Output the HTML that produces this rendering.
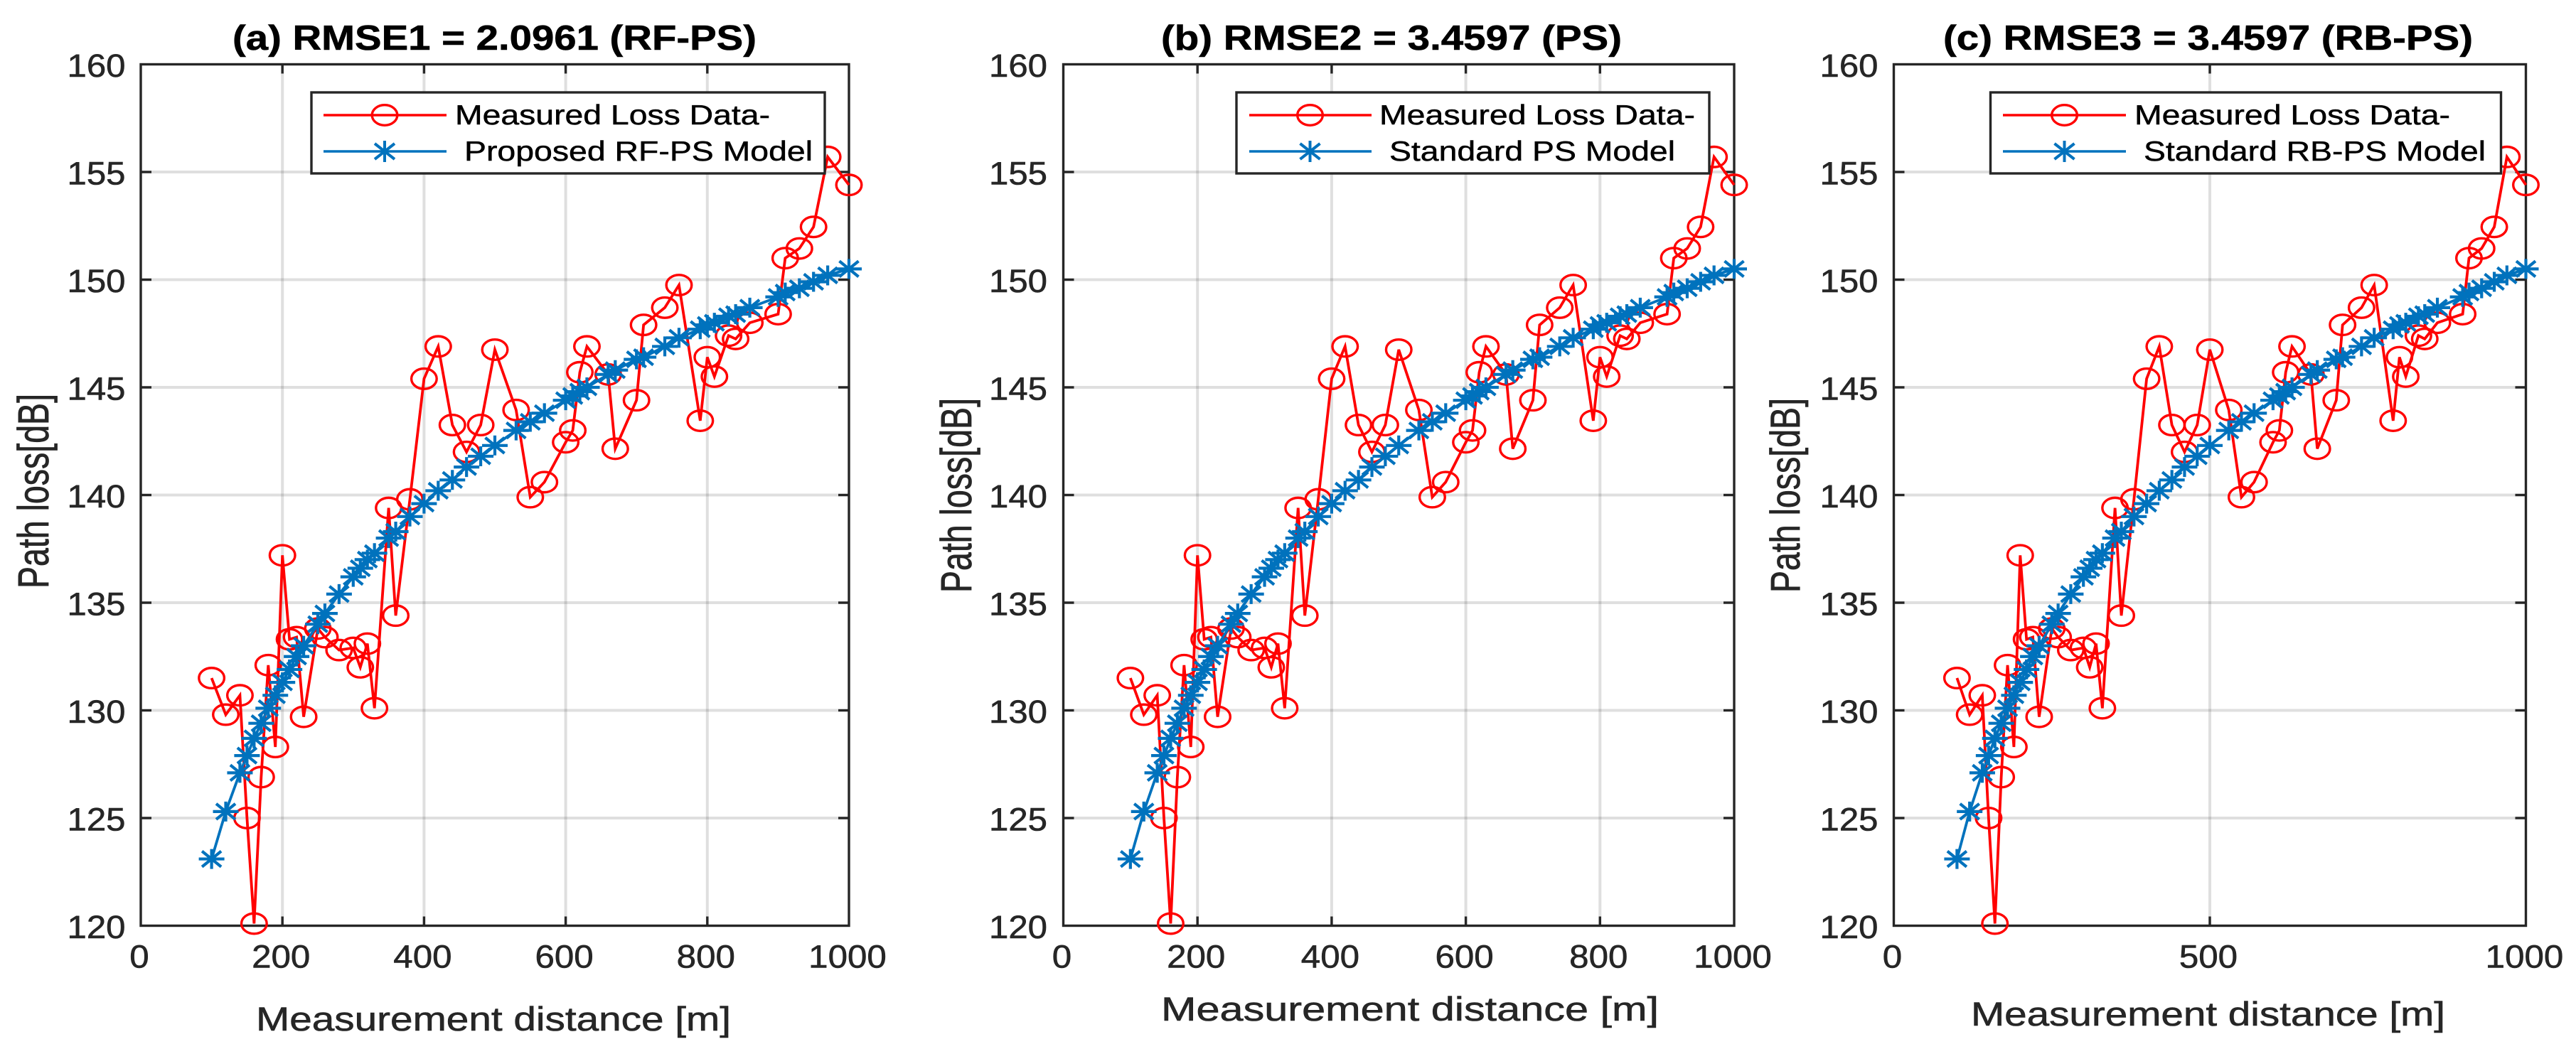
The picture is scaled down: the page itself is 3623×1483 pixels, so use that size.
<!DOCTYPE html>
<html lang="en">
<head>
<meta charset="utf-8">
<title>Path loss RMSE comparison</title>
<style>
html,body{margin:0;padding:0;background:#fff;}
body{width:3623px;height:1483px;overflow:hidden;}
svg{display:block;}
text{font-family:"Liberation Sans",sans-serif;}
.title{font-size:49px;font-weight:bold;fill:#000;stroke:#000;stroke-width:0.6;}
.axis-label{font-size:47px;fill:#262626;stroke:#262626;stroke-width:0.6;}
.legend-text{font-size:39px;fill:#000;stroke:#000;stroke-width:0.5;}
.tick-label{font-size:45px;fill:#262626;stroke:#262626;stroke-width:0.6;}
</style>
</head>
<body>
<svg id="figure" xmlns="http://www.w3.org/2000/svg" width="3623" height="1483" viewBox="0 0 3623 1483">
  <rect x="0" y="0" width="3623" height="1483" fill="#fff"/>

  <g id="panel-a">
    <g class="plot-layer"></g>
    <text class="title" x="327" y="70" textLength="737" lengthAdjust="spacingAndGlyphs">(a) RMSE1 = 2.0961 (RF-PS)</text>
    <text class="axis-label" x="360" y="1450" textLength="668" lengthAdjust="spacingAndGlyphs">Measurement distance [m]</text>
    <text class="axis-label" transform="translate(68,828) scale(1.3,1) rotate(-90)" x="0" y="0" textLength="274" lengthAdjust="spacingAndGlyphs">Path loss[dB]</text>
    <g>
      <rect x="438" y="130" width="722" height="114" fill="#fff" stroke="#262626" stroke-width="3.4"/>
      <line x1="455" y1="162" x2="628" y2="162" stroke="#f00" stroke-width="3.6"/>
      <ellipse cx="541" cy="162" rx="17.8" ry="14.3" fill="none" stroke="#f00" stroke-width="3.4"/>
      <text class="legend-text" x="640" y="175" textLength="443" lengthAdjust="spacingAndGlyphs">Measured Loss Data-</text>
      <line x1="455" y1="213" x2="628" y2="213" stroke="#0072bd" stroke-width="3.6"/>
      <path d="M541 198V228M527 202L555 224M555 202L527 224" fill="none" stroke="#0072bd" stroke-width="4"/>
      <text class="legend-text" x="653" y="226" textLength="490" lengthAdjust="spacingAndGlyphs">Proposed RF-PS Model</text>
    </g>
  </g>

  <g id="panel-b">
    <g class="plot-layer"></g>
    <text class="title" x="1633" y="70" textLength="648" lengthAdjust="spacingAndGlyphs">(b) RMSE2 = 3.4597 (PS)</text>
    <text class="axis-label" x="1633" y="1436" textLength="700" lengthAdjust="spacingAndGlyphs">Measurement distance [m]</text>
    <text class="axis-label" transform="translate(1366,834) scale(1.3,1) rotate(-90)" x="0" y="0" textLength="274" lengthAdjust="spacingAndGlyphs">Path loss[dB]</text>
    <g>
      <rect x="1739" y="130" width="665" height="114" fill="#fff" stroke="#262626" stroke-width="3.4"/>
      <line x1="1757" y1="162" x2="1929" y2="162" stroke="#f00" stroke-width="3.6"/>
      <ellipse cx="1842.5" cy="162" rx="17.8" ry="14.3" fill="none" stroke="#f00" stroke-width="3.4"/>
      <text class="legend-text" x="1940" y="175" textLength="444" lengthAdjust="spacingAndGlyphs">Measured Loss Data-</text>
      <line x1="1757" y1="213" x2="1929" y2="213" stroke="#0072bd" stroke-width="3.6"/>
      <path d="M1842.5 198V228M1828.5 202L1856.5 224M1856.5 202L1828.5 224" fill="none" stroke="#0072bd" stroke-width="4"/>
      <text class="legend-text" x="1954" y="226" textLength="402" lengthAdjust="spacingAndGlyphs">Standard PS Model</text>
    </g>
  </g>

  <g id="panel-c">
    <g class="plot-layer"></g>
    <text class="title" x="2733" y="70" textLength="745" lengthAdjust="spacingAndGlyphs">(c) RMSE3 = 3.4597 (RB-PS)</text>
    <text class="axis-label" x="2772" y="1443" textLength="667" lengthAdjust="spacingAndGlyphs">Measurement distance [m]</text>
    <text class="axis-label" transform="translate(2531,834) scale(1.25,1) rotate(-90)" x="0" y="0" textLength="274" lengthAdjust="spacingAndGlyphs">Path loss[dB]</text>
    <g>
      <rect x="2799.5" y="130" width="718" height="114" fill="#fff" stroke="#262626" stroke-width="3.4"/>
      <line x1="2817" y1="162" x2="2990" y2="162" stroke="#f00" stroke-width="3.6"/>
      <ellipse cx="2903.5" cy="162" rx="17.8" ry="14.3" fill="none" stroke="#f00" stroke-width="3.4"/>
      <text class="legend-text" x="3002" y="175" textLength="444" lengthAdjust="spacingAndGlyphs">Measured Loss Data-</text>
      <line x1="2817" y1="213" x2="2990" y2="213" stroke="#0072bd" stroke-width="3.6"/>
      <path d="M2903.5 198V228M2889.5 202L2917.5 224M2917.5 202L2889.5 224" fill="none" stroke="#0072bd" stroke-width="4"/>
      <text class="legend-text" x="3015" y="226" textLength="481" lengthAdjust="spacingAndGlyphs">Standard RB-PS Model</text>
    </g>
  </g>
</svg>

<script>
const distances = [100,120,140,150,160,170,180,190,200,210,220,230,250,260,280,300,310,320,330,350,360,380,400,420,440,460,480,500,530,550,570,600,610,620,630,660,670,700,710,740,760,790,800,810,830,840,860,900,910,930,950,970,1000];
const measuredLoss = [131.5,129.8,130.7,125.0,120.1,126.9,132.1,128.3,137.2,133.3,133.4,129.7,133.8,133.4,132.8,132.9,132.0,133.1,130.1,139.4,134.4,139.8,145.4,146.9,143.25,142.0,143.25,146.75,143.95,139.9,140.6,142.45,143.0,145.7,146.9,145.6,142.15,144.4,147.9,148.7,149.75,143.45,146.4,145.5,147.4,147.25,148.0,148.4,151.0,151.45,152.45,155.7,154.4];
const modelLoss = [123.1,125.3,127.1,127.9,128.7,129.4,130.1,130.7,131.3,131.9,132.5,133.0,134.0,134.5,135.4,136.2,136.6,137.0,137.3,138.0,138.3,139.0,139.6,140.2,140.7,141.3,141.8,142.3,143.0,143.4,143.8,144.4,144.6,144.8,145.0,145.6,145.8,146.3,146.4,146.9,147.3,147.7,147.9,148.0,148.3,148.4,148.7,149.2,149.4,149.6,149.9,150.2,150.5];
const yTickValues = [120,125,130,135,140,145,150,155,160];
const xTickValuesWide = [0,200,400,600,800,1000];
const xTickValuesNarrow = [0,500,1000];

const SVG_NS = 'http://www.w3.org/2000/svg';
const X_MAX = 1000;
const Y_MIN = 120;
const Y_MAX = 160;
const AXIS_TOP = 90.5;
const AXIS_BOTTOM = 1302.5;
const DARK = '#262626';
const GRID = 'rgba(38,38,38,0.15)';
const RED = '#ff0000';
const BLUE = '#0072bd';

function yScale(v) {
  return AXIS_BOTTOM - (v - Y_MIN) / (Y_MAX - Y_MIN) * (AXIS_BOTTOM - AXIS_TOP);
}

function makeXScale(left, right) {
  return function (v) {
    return left + v / X_MAX * (right - left);
  };
}

function svgEl(tag, attrs) {
  const el = document.createElementNS(SVG_NS, tag);
  for (const key in attrs) {
    el.setAttribute(key, attrs[key]);
  }
  return el;
}

function asteriskPath(cx, cy) {
  return 'M' + (cx - 18) + ' ' + cy + 'H' + (cx + 18) +
    'M' + cx + ' ' + (cy - 14) + 'V' + (cy + 14) +
    'M' + (cx - 13.5) + ' ' + (cy - 11) + 'L' + (cx + 13.5) + ' ' + (cy + 11) +
    'M' + (cx + 13.5) + ' ' + (cy - 11) + 'L' + (cx - 13.5) + ' ' + (cy + 11);
}

function drawPanel(panel) {
  const layer = document.querySelector('#' + panel.id + ' .plot-layer');
  const x = makeXScale(panel.left, panel.right);

  const plotBg = svgEl('rect', {x: panel.left, y: AXIS_TOP, width: panel.right - panel.left, height: AXIS_BOTTOM - AXIS_TOP, fill: '#fff'});
  
  
  layer.appendChild(plotBg);

  panel.xTicks.forEach(function (t) {
    const px = x(t);
    if (t > 0 && t < X_MAX) {
      const grid = svgEl('line', {x1: px, x2: px, y1: AXIS_TOP, y2: AXIS_BOTTOM, stroke: GRID, 'stroke-width': 4});
      
      
      layer.appendChild(grid);
      const tickBottom = svgEl('line', {x1: px, x2: px, y1: AXIS_BOTTOM, y2: AXIS_BOTTOM - 13, stroke: DARK, 'stroke-width': 3.4});
      
      
      layer.appendChild(tickBottom);
      const tickTop = svgEl('line', {x1: px, x2: px, y1: AXIS_TOP, y2: AXIS_TOP + 13, stroke: DARK, 'stroke-width': 3.4});
      
      
      layer.appendChild(tickTop);
    }
    const digits = String(t).length;
    const label = svgEl('text', {'class': 'tick-label', x: px - panel.xLabelShift, y: 1361.5, 'text-anchor': 'middle', textLength: 27.4 * digits, lengthAdjust: 'spacingAndGlyphs'});
    
    
    label.textContent = String(t);
    layer.appendChild(label);
  });

  yTickValues.forEach(function (t) {
    const py = yScale(t);
    if (t > Y_MIN && t < Y_MAX) {
      const grid = svgEl('line', {x1: panel.left, x2: panel.right, y1: py, y2: py, stroke: GRID, 'stroke-width': 4});
      
      
      layer.appendChild(grid);
      const tickLeft = svgEl('line', {x1: panel.left, x2: panel.left + 15, y1: py, y2: py, stroke: DARK, 'stroke-width': 3.4});
      
      
      layer.appendChild(tickLeft);
      const tickRight = svgEl('line', {x1: panel.right, x2: panel.right - 15, y1: py, y2: py, stroke: DARK, 'stroke-width': 3.4});
      
      
      layer.appendChild(tickRight);
    }
    const label = svgEl('text', {'class': 'tick-label', x: panel.yLabelRight, y: py + 17.5, 'text-anchor': 'end', textLength: 82, lengthAdjust: 'spacingAndGlyphs'});
    
    
    label.textContent = String(t);
    layer.appendChild(label);
  });

  const frame = svgEl('rect', {x: panel.left, y: AXIS_TOP, width: panel.right - panel.left, height: AXIS_BOTTOM - AXIS_TOP, fill: 'none', stroke: DARK, 'stroke-width': 3.4});
  
  
  layer.appendChild(frame);

  const measuredPoints = distances.map(function (d, i) {
    return x(d).toFixed(2) + ',' + yScale(measuredLoss[i]).toFixed(2);
  }).join(' ');
  const measuredLine = svgEl('polyline', {points: measuredPoints, fill: 'none', stroke: RED, 'stroke-width': 3.8, 'stroke-linejoin': 'miter'});
  
  
  layer.appendChild(measuredLine);

  distances.forEach(function (d, i) {
    const circle = svgEl('ellipse', {cx: x(d), cy: yScale(measuredLoss[i]), rx: 17.8, ry: 14.3, fill: 'none', stroke: RED, 'stroke-width': 3.4});
    
    
    layer.appendChild(circle);
  });

  const modelPoints = distances.map(function (d, i) {
    return x(d).toFixed(2) + ',' + yScale(modelLoss[i]).toFixed(2);
  }).join(' ');
  const modelLine = svgEl('polyline', {points: modelPoints, fill: 'none', stroke: BLUE, 'stroke-width': 3.8});
  
  
  layer.appendChild(modelLine);

  distances.forEach(function (d, i) {
    const star = svgEl('path', {d: asteriskPath(x(d), yScale(modelLoss[i])), fill: 'none', stroke: BLUE, 'stroke-width': 4.2});
    
    
    layer.appendChild(star);
  });
}

drawPanel({id: 'panel-a', left: 198, right: 1194, xTicks: xTickValuesWide, yLabelRight: 176.5, xLabelShift: 2});
drawPanel({id: 'panel-b', left: 1495.5, right: 2439, xTicks: xTickValuesWide, yLabelRight: 1473, xLabelShift: 2});
drawPanel({id: 'panel-c', left: 2663.5, right: 3552.5, xTicks: xTickValuesNarrow, yLabelRight: 2641.5, xLabelShift: 2});
</script>
</body>
</html>
